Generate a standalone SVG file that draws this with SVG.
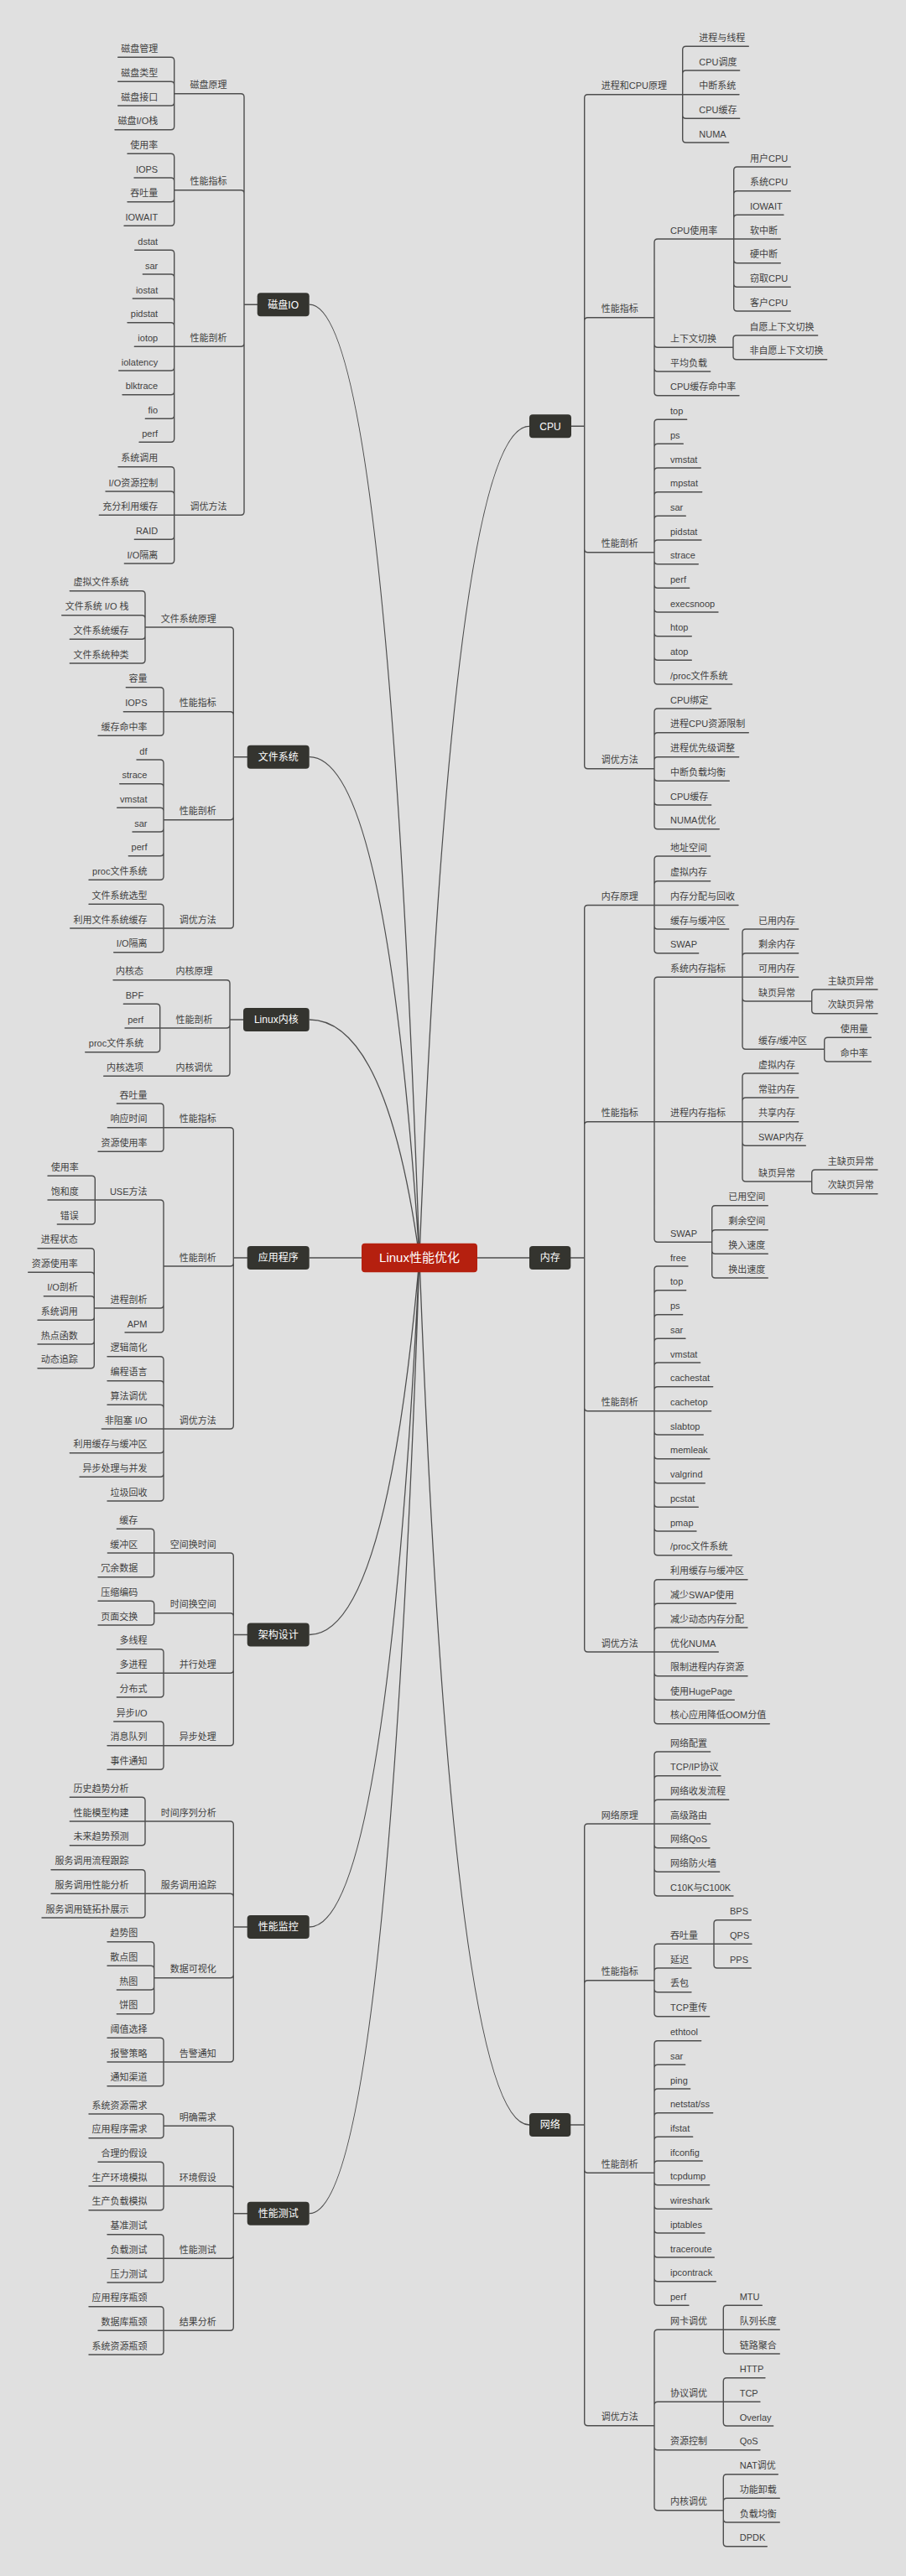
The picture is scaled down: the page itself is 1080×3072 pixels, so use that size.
<svg xmlns="http://www.w3.org/2000/svg" width="1080" height="3072" viewBox="0 0 1080 3072">
<style>
.l{fill:none;stroke:#4e4e4e;stroke-width:1.4;stroke-linecap:round}
.r{fill:none;stroke:#4e4e4e;stroke-width:1.3}
.t{font-family:"Liberation Sans","Noto Sans CJK SC",sans-serif;font-size:11px;fill:#404040}
.e{text-anchor:end}
.n{fill:#34342f}
.nt{font-family:"Liberation Sans","Noto Sans CJK SC",sans-serif;font-size:12px;fill:#ffffff;text-anchor:middle}
</style>
<rect width="1080" height="3072" fill="#e0e0e0"/>
<g id="connectors">
<g id="curves">
<path class="r" d="M368.7 363.2Q461 363.2 500 1500M368.7 902.7Q461 902.7 500 1500M368.7 1216Q461 1216 500 1500M368.7 1500H500M368.7 1949.5Q461 1949.5 500 1500M368.7 2298Q461 2298 500 1500M368.7 2639.7Q461 2639.7 500 1500M631 508.3Q539 508.3 500 1500M631 1500H500M631 2534Q539 2534 500 1500"/>
</g>
<path class="l" d="M306.7 363.2H291M291 363.2V115.7Q291 111.7 287 111.7H207.7M291 363.2V230.7Q291 226.7 287 226.7H207.7M291 363.2V409.3Q291 413.3 287 413.3H207.7M291 363.2V610.3Q291 614.3 287 614.3H207.7
M207.7 111.7V72.3Q207.7 68.3 203.7 68.3H140.7M207.7 111.7V101.3Q207.7 97.3 203.7 97.3H140.7M207.7 111.7V122Q207.7 126 203.7 126H140.7M207.7 111.7V150.7Q207.7 154.7 203.7 154.7H137
M207.7 226.7V187.3Q207.7 183.3 203.7 183.3H152M207.7 226.7V216Q207.7 212 203.7 212H160M207.7 226.7V236.7Q207.7 240.7 203.7 240.7H152M207.7 226.7V265.3Q207.7 269.3 203.7 269.3H148
M207.7 413.3V302.3Q207.7 298.3 203.7 298.3H160.7M207.7 413.3V331Q207.7 327 203.7 327H170.3M207.7 413.3V360Q207.7 356 203.7 356H158.3M207.7 413.3V388.7Q207.7 384.7 203.7 384.7H152M207.7 413.3H160.3M207.7 413.3V438Q207.7 442 203.7 442H141.7M207.7 413.3V466.7Q207.7 470.7 203.7 470.7H146M207.7 413.3V495.3Q207.7 499.3 203.7 499.3H173.3M207.7 413.3V523.3Q207.7 527.3 203.7 527.3H166
M207.7 614.3V560.7Q207.7 556.7 203.7 556.7H141M207.7 614.3V590Q207.7 586 203.7 586H126M207.7 614.3H118.3M207.7 614.3V639.3Q207.7 643.3 203.7 643.3H160.3M207.7 614.3V668Q207.7 672 203.7 672H148.3"/>
<path class="l" d="M294.7 902.7H278.3M278.3 902.7V752Q278.3 748 274.3 748H173M278.3 902.7V852.7Q278.3 848.7 274.3 848.7H195M278.3 902.7V973.7Q278.3 977.7 274.3 977.7H195M278.3 902.7V1103Q278.3 1107 274.3 1107H195
M173 748V708.7Q173 704.7 169 704.7H83.3M173 748V737.7Q173 733.7 169 733.7H73.7M173 748V758.3Q173 762.3 169 762.3H83.3M173 748V787Q173 791 169 791H83.3
M195 848.7V823.7Q195 819.7 191 819.7H150.3M195 848.7H147.3M195 848.7V873.3Q195 877.3 191 877.3H117
M195 977.7V910Q195 906 191 906H163M195 977.7V938.7Q195 934.7 191 934.7H142.7M195 977.7V967.3Q195 963.3 191 963.3H139.7M195 977.7V988Q195 992 191 992H158M195 977.7V1016.7Q195 1020.7 191 1020.7H153.3M195 977.7V1045.3Q195 1049.3 191 1049.3H106
M195 1107V1082.3Q195 1078.3 191 1078.3H106M195 1107H83.7M195 1107V1131.7Q195 1135.7 191 1135.7H135.7"/>
<path class="l" d="M290 1216H274M274 1216V1172.7Q274 1168.7 270 1168.7H135M274 1216V1222Q274 1226 270 1226H190.7M274 1216V1279.3Q274 1283.3 270 1283.3H123.7
M190.7 1226V1201.3Q190.7 1197.3 186.7 1197.3H147.3M190.7 1226H149M190.7 1226V1250.7Q190.7 1254.7 186.7 1254.7H101.7"/>
<path class="l" d="M294.7 1500H278.3M278.3 1500V1348.7Q278.3 1344.7 274.3 1344.7H195M278.3 1500V1506Q278.3 1510 274.3 1510H195M278.3 1500V1700Q278.3 1704 274.3 1704H195
M195 1344.7V1320Q195 1316 191 1316H139.3M195 1344.7H128.3M195 1344.7V1369.3Q195 1373.3 191 1373.3H117
M195 1510V1435Q195 1431 191 1431H113.3M195 1510V1556Q195 1560 191 1560H112.3M195 1510V1585Q195 1589 191 1589H149
M113.3 1431V1406.3Q113.3 1402.3 109.3 1402.3H57M113.3 1431H57M113.3 1431V1456Q113.3 1460 109.3 1460H68.3
M112.3 1560V1492.7Q112.3 1488.7 108.3 1488.7H45M112.3 1560V1521.3Q112.3 1517.3 108.3 1517.3H33.7M112.3 1560V1549.7Q112.3 1545.7 108.3 1545.7H52.3M112.3 1560V1570.3Q112.3 1574.3 108.3 1574.3H45M112.3 1560V1599Q112.3 1603 108.3 1603H45M112.3 1560V1627.7Q112.3 1631.7 108.3 1631.7H45
M195 1704V1621.7Q195 1617.7 191 1617.7H128M195 1704V1650.7Q195 1646.7 191 1646.7H128M195 1704V1679.3Q195 1675.3 191 1675.3H128M195 1704H121.3M195 1704V1728.7Q195 1732.7 191 1732.7H83.3M195 1704V1757.3Q195 1761.3 191 1761.3H95M195 1704V1786Q195 1790 191 1790H128"/>
<path class="l" d="M294.7 1949.5H278.3M278.3 1949.5V1856Q278.3 1852 274.3 1852H183.7M278.3 1949.5V1927.7Q278.3 1923.7 274.3 1923.7H183.7M278.3 1949.5V1991.3Q278.3 1995.3 274.3 1995.3H195M278.3 1949.5V2077.7Q278.3 2081.7 274.3 2081.7H195
M183.7 1852V1827.3Q183.7 1823.3 179.7 1823.3H139.3M183.7 1852H128.3M183.7 1852V1876.7Q183.7 1880.7 179.7 1880.7H117
M183.7 1923.7V1913.3Q183.7 1909.3 179.7 1909.3H117M183.7 1923.7V1934Q183.7 1938 179.7 1938H117
M195 1995.3V1970.7Q195 1966.7 191 1966.7H139.3M195 1995.3H139.3M195 1995.3V2020Q195 2024 191 2024H139.3
M195 2081.7V2057Q195 2053 191 2053H135.7M195 2081.7H128M195 2081.7V2106.3Q195 2110.3 191 2110.3H128"/>
<path class="l" d="M294.7 2298H278.3M278.3 2298V2176Q278.3 2172 274.3 2172H173M278.3 2298V2262.3Q278.3 2258.3 274.3 2258.3H173M278.3 2298V2354.7Q278.3 2358.7 274.3 2358.7H183.7M278.3 2298V2455Q278.3 2459 274.3 2459H195
M173 2172V2147.3Q173 2143.3 169 2143.3H83.3M173 2172H83.3M173 2172V2196.7Q173 2200.7 169 2200.7H83.3
M173 2258.3V2233.7Q173 2229.7 169 2229.7H61M173 2258.3H61M173 2258.3V2283Q173 2287 169 2287H50
M183.7 2358.7V2319.7Q183.7 2315.7 179.7 2315.7H128M183.7 2358.7V2348.3Q183.7 2344.3 179.7 2344.3H128M183.7 2358.7V2369Q183.7 2373 179.7 2373H139.3M183.7 2358.7V2397.7Q183.7 2401.7 179.7 2401.7H139.3
M195 2459V2434.3Q195 2430.3 191 2430.3H128M195 2459H128M195 2459V2483.7Q195 2487.7 191 2487.7H128"/>
<path class="l" d="M294.7 2639.7H278.3M278.3 2639.7V2539.3Q278.3 2535.3 274.3 2535.3H195M278.3 2639.7V2611Q278.3 2607 274.3 2607H195M278.3 2639.7V2689.3Q278.3 2693.3 274.3 2693.3H195M278.3 2639.7V2775.3Q278.3 2779.3 274.3 2779.3H195
M195 2535.3V2525Q195 2521 191 2521H106M195 2535.3V2545.7Q195 2549.7 191 2549.7H106
M195 2607V2582.3Q195 2578.3 191 2578.3H117M195 2607H106M195 2607V2631.7Q195 2635.7 191 2635.7H106
M195 2693.3V2668.7Q195 2664.7 191 2664.7H128M195 2693.3H128M195 2693.3V2718Q195 2722 191 2722H128
M195 2779.3V2754.7Q195 2750.7 191 2750.7H106M195 2779.3H117M195 2779.3V2804Q195 2808 191 2808H106"/>
<path class="l" d="M681 508.3H696.7M696.7 508.3V116.7Q696.7 112.7 700.7 112.7H813.7M696.7 508.3V382.7Q696.7 378.7 700.7 378.7H780M696.7 508.3V654.7Q696.7 658.7 700.7 658.7H780M696.7 508.3V912.7Q696.7 916.7 700.7 916.7H780
M813.7 112.7V59.3Q813.7 55.3 817.7 55.3H892.3M813.7 112.7V88Q813.7 84 817.7 84H881.7M813.7 112.7H881M813.7 112.7V137.3Q813.7 141.3 817.7 141.3H881.7M813.7 112.7V166Q813.7 170 817.7 170H868.7
M780 378.7V289Q780 285 784 285H874.7M780 378.7V410.3Q780 414.3 784 414.3H874M780 378.7V439Q780 443 784 443H846.7M780 378.7V467.7Q780 471.7 784 471.7H881
M874.7 285V203Q874.7 199 878.7 199H942.3M874.7 285V231.7Q874.7 227.7 878.7 227.7H942.3M874.7 285V260.3Q874.7 256.3 878.7 256.3H934M874.7 285H930.3M874.7 285V309.7Q874.7 313.7 878.7 313.7H930.3M874.7 285V338.3Q874.7 342.3 878.7 342.3H942.3M874.7 285V367Q874.7 371 878.7 371H942.3
M874 414.3V404Q874 400 878 400H974.7M874 414.3V424.7Q874 428.7 878 428.7H985.7
M780 658.7V504.3Q780 500.3 784 500.3H818.7M780 658.7V533.3Q780 529.3 784 529.3H814.3M780 658.7V562Q780 558 784 558H835.3M780 658.7V590.7Q780 586.7 784 586.7H836.7M780 658.7V619.3Q780 615.3 784 615.3H817.3M780 658.7V648Q780 644 784 644H836M780 658.7V668.7Q780 672.7 784 672.7H832.3M780 658.7V697.3Q780 701.3 784 701.3H821.7M780 658.7V726Q780 730 784 730H856M780 658.7V754.7Q780 758.7 784 758.7H824.3M780 658.7V783.3Q780 787.3 784 787.3H824.3M780 658.7V812Q780 816 784 816H872.7
M780 916.7V849Q780 845 784 845H847.7M780 916.7V877.7Q780 873.7 784 873.7H892.3M780 916.7V906.7Q780 902.7 784 902.7H880.7M780 916.7V927.3Q780 931.3 784 931.3H869.3M780 916.7V956Q780 960 784 960H847.7M780 916.7V984.7Q780 988.7 784 988.7H857.3"/>
<path class="l" d="M680.3 1500H696.7M696.7 1500V1083.5Q696.7 1079.5 700.7 1079.5H780M696.7 1500V1341.7Q696.7 1337.7 700.7 1337.7H780M696.7 1500V1678.7Q696.7 1682.7 700.7 1682.7H780M696.7 1500V1966Q696.7 1970 700.7 1970H780
M780 1079.5V1025Q780 1021 784 1021H846.7M780 1079.5V1054.7Q780 1050.7 784 1050.7H846.7M780 1079.5H880M780 1079.5V1104Q780 1108 784 1108H868.7M780 1079.5V1132.7Q780 1136.7 784 1136.7H832.7
M780 1337.7V1169.3Q780 1165.3 784 1165.3H885M780 1337.7H885M780 1337.7V1477.3Q780 1481.3 784 1481.3H848.7
M885 1165.3V1112Q885 1108 889 1108H951.7M885 1165.3V1140.7Q885 1136.7 889 1136.7H951.7M885 1165.3H951.7M885 1165.3V1190Q885 1194 889 1194H967.7M885 1165.3V1247.3Q885 1251.3 889 1251.3H982.7
M967.7 1194V1184Q967.7 1180 971.7 1180H1046M967.7 1194V1204.7Q967.7 1208.7 971.7 1208.7H1046
M982.7 1251.3V1241.3Q982.7 1237.3 986.7 1237.3H1038.3M982.7 1251.3V1262Q982.7 1266 986.7 1266H1038.3
M885 1337.7V1284Q885 1280 889 1280H951.7M885 1337.7V1313Q885 1309 889 1309H951.7M885 1337.7H951.7M885 1337.7V1362.3Q885 1366.3 889 1366.3H960.3M885 1337.7V1405Q885 1409 889 1409H967.7
M967.7 1409V1399Q967.7 1395 971.7 1395H1046M967.7 1409V1419.7Q967.7 1423.7 971.7 1423.7H1046
M848.7 1481.3V1441.7Q848.7 1437.7 852.7 1437.7H915.3M848.7 1481.3V1470.7Q848.7 1466.7 852.7 1466.7H915.3M848.7 1481.3V1491.3Q848.7 1495.3 852.7 1495.3H915.3M848.7 1481.3V1520Q848.7 1524 852.7 1524H915.3
M780 1682.7V1514Q780 1510 784 1510H820M780 1682.7V1542.7Q780 1538.7 784 1538.7H817.7M780 1682.7V1571.7Q780 1567.7 784 1567.7H813.7M780 1682.7V1600.3Q780 1596.3 784 1596.3H817M780 1682.7V1629Q780 1625 784 1625H834.7M780 1682.7V1657.7Q780 1653.7 784 1653.7H849.7M780 1682.7H847.7M780 1682.7V1707Q780 1711 784 1711H838.3M780 1682.7V1735.7Q780 1739.7 784 1739.7H846M780 1682.7V1764.7Q780 1768.7 784 1768.7H840.3M780 1682.7V1793.3Q780 1797.3 784 1797.3H832.3M780 1682.7V1822Q780 1826 784 1826H830M780 1682.7V1850.7Q780 1854.7 784 1854.7H872.3
M780 1970V1887.7Q780 1883.7 784 1883.7H891M780 1970V1916.3Q780 1912.3 784 1912.3H877.3M780 1970V1945Q780 1941 784 1941H891M780 1970H856.3M780 1970V1994.7Q780 1998.7 784 1998.7H891M780 1970V2023.3Q780 2027.3 784 2027.3H875.3M780 1970V2051.7Q780 2055.7 784 2055.7H917.3"/>
<path class="l" d="M680.3 2534H696.7M696.7 2534V2179Q696.7 2175 700.7 2175H780M696.7 2534V2365.7Q696.7 2361.7 700.7 2361.7H780M696.7 2534V2587.3Q696.7 2591.3 700.7 2591.3H780M696.7 2534V2888.7Q696.7 2892.7 700.7 2892.7H780
M780 2175V2093Q780 2089 784 2089H846.7M780 2175V2121.7Q780 2117.7 784 2117.7H859M780 2175V2150.3Q780 2146.3 784 2146.3H868.7M780 2175H846.7M780 2175V2199.7Q780 2203.7 784 2203.7H846M780 2175V2228.3Q780 2232.3 784 2232.3H857.7M780 2175V2257Q780 2261 784 2261H874
M780 2361.7V2322.3Q780 2318.3 784 2318.3H851M780 2361.7V2351Q780 2347 784 2347H824M780 2361.7V2371.7Q780 2375.7 784 2375.7H824M780 2361.7V2400.7Q780 2404.7 784 2404.7H845.7
M851 2318.3V2293.7Q851 2289.7 855 2289.7H895.3M851 2318.3H896M851 2318.3V2343Q851 2347 855 2347H895.3
M780 2591.3V2437.7Q780 2433.7 784 2433.7H835.7M780 2591.3V2466.3Q780 2462.3 784 2462.3H816.7M780 2591.3V2495Q780 2491 784 2491H822.7M780 2591.3V2523.7Q780 2519.7 784 2519.7H849.7M780 2591.3V2552.3Q780 2548.3 784 2548.3H825.7M780 2591.3V2581Q780 2577 784 2577H837.3M780 2591.3V2601.7Q780 2605.7 784 2605.7H845.7M780 2591.3V2630.3Q780 2634.3 784 2634.3H848.7M780 2591.3V2659Q780 2663 784 2663H840M780 2591.3V2688Q780 2692 784 2692H851.3M780 2591.3V2716.7Q780 2720.7 784 2720.7H853.3M780 2591.3V2745.3Q780 2749.3 784 2749.3H821
M780 2892.7V2782.3Q780 2778.3 784 2778.3H862.3M780 2892.7V2868.3Q780 2864.3 784 2864.3H862.3M780 2892.7V2917.7Q780 2921.7 784 2921.7H906M780 2892.7V2989.7Q780 2993.7 784 2993.7H862.3
M862.3 2778.3V2753.3Q862.3 2749.3 866.3 2749.3H908.3M862.3 2778.3H929.3M862.3 2778.3V2803Q862.3 2807 866.3 2807H929.3
M862.3 2864.3V2839.7Q862.3 2835.7 866.3 2835.7H912M862.3 2864.3H906M862.3 2864.3V2889Q862.3 2893 866.3 2893H921.7
M862.3 2993.7V2954.7Q862.3 2950.7 866.3 2950.7H927.3M862.3 2993.7V2983.3Q862.3 2979.3 866.3 2979.3H929.3M862.3 2993.7V3004Q862.3 3008 866.3 3008H929.3M862.3 2993.7V3032.7Q862.3 3036.7 866.3 3036.7H914.3"/>
</g>
<g id="root"><rect x="431" y="1482.7" width="138" height="34.6" rx="4" fill="#b5200f"/><text class="nt" x="500" y="1505.3" style="font-size:15px">Linux性能优化</text></g>
<g id="disk"><rect class="n" x="306.7" y="349.2" width="62" height="28" rx="4"/><text class="nt" x="337.7" y="367.5">磁盘IO</text></g>
<g id="fs"><rect class="n" x="294.7" y="888.7" width="74" height="28" rx="4"/><text class="nt" x="331.7" y="907">文件系统</text></g>
<g id="kernel"><rect class="n" x="290" y="1202" width="78.7" height="28" rx="4"/><text class="nt" x="329.3" y="1220.3">Linux内核</text></g>
<g id="app"><rect class="n" x="294.7" y="1486" width="74" height="28" rx="4"/><text class="nt" x="331.7" y="1504.3">应用程序</text></g>
<g id="arch"><rect class="n" x="294.7" y="1935.5" width="74" height="28" rx="4"/><text class="nt" x="331.7" y="1953.8">架构设计</text></g>
<g id="mon"><rect class="n" x="294.7" y="2284" width="74" height="28" rx="4"/><text class="nt" x="331.7" y="2302.3">性能监控</text></g>
<g id="test"><rect class="n" x="294.7" y="2625.7" width="74" height="28" rx="4"/><text class="nt" x="331.7" y="2644">性能测试</text></g>
<g id="cpu"><rect class="n" x="631" y="494.3" width="50" height="28" rx="4"/><text class="nt" x="656" y="512.6">CPU</text></g>
<g id="mem"><rect class="n" x="631" y="1486" width="49.3" height="28" rx="4"/><text class="nt" x="655.7" y="1504.3">内存</text></g>
<g id="net"><rect class="n" x="631" y="2520" width="49.3" height="28" rx="4"/><text class="nt" x="655.7" y="2538.3">网络</text></g>
<g id="disk-topics" class="t e">
<g id="d1"><text x="270.5" y="105.2">磁盘原理</text></g>
<g id="d1a"><text x="188.2" y="61.8">磁盘管理</text></g>
<g id="d1b"><text x="188.2" y="90.8">磁盘类型</text></g>
<g id="d1c"><text x="188.2" y="119.5">磁盘接口</text></g>
<g id="d1d"><text x="188.2" y="148.2">磁盘I/O栈</text></g>
<g id="d2"><text x="270.5" y="220.2">性能指标</text></g>
<g id="d2a"><text x="188.2" y="176.8">使用率</text></g>
<g id="d2b"><text x="188.2" y="205.5">IOPS</text></g>
<g id="d2c"><text x="188.2" y="234.2">吞吐量</text></g>
<g id="d2d"><text x="188.2" y="262.8">IOWAIT</text></g>
<g id="d3"><text x="270.5" y="406.8">性能剖析</text></g>
<g id="d3a"><text x="188.2" y="291.8">dstat</text></g>
<g id="d3b"><text x="188.2" y="320.5">sar</text></g>
<g id="d3c"><text x="188.2" y="349.5">iostat</text></g>
<g id="d3d"><text x="188.2" y="378.2">pidstat</text></g>
<g id="d3e"><text x="188.2" y="406.8">iotop</text></g>
<g id="d3f"><text x="188.2" y="435.5">iolatency</text></g>
<g id="d3g"><text x="188.2" y="464.2">blktrace</text></g>
<g id="d3h"><text x="188.2" y="492.8">fio</text></g>
<g id="d3i"><text x="188.2" y="520.8">perf</text></g>
<g id="d4"><text x="270.5" y="607.8">调优方法</text></g>
<g id="d4a"><text x="188.2" y="550.2">系统调用</text></g>
<g id="d4b"><text x="188.2" y="579.5">I/O资源控制</text></g>
<g id="d4c"><text x="188.2" y="607.8">充分利用缓存</text></g>
<g id="d4d"><text x="188.2" y="636.8">RAID</text></g>
<g id="d4e"><text x="188.2" y="665.5">I/O隔离</text></g>
</g>
<g id="fs-topics" class="t e">
<g id="f1"><text x="257.8" y="741.5">文件系统原理</text></g>
<g id="f1a"><text x="153.5" y="698.2">虚拟文件系统</text></g>
<g id="f1b"><text x="153.5" y="727.2">文件系统 I/O 栈</text></g>
<g id="f1c"><text x="153.5" y="755.8">文件系统缓存</text></g>
<g id="f1d"><text x="153.5" y="784.5">文件系统种类</text></g>
<g id="f2"><text x="257.8" y="842.2">性能指标</text></g>
<g id="f2a"><text x="175.5" y="813.2">容量</text></g>
<g id="f2b"><text x="175.5" y="842.2">IOPS</text></g>
<g id="f2c"><text x="175.5" y="870.8">缓存命中率</text></g>
<g id="f3"><text x="257.8" y="971.2">性能剖析</text></g>
<g id="f3a"><text x="175.5" y="899.5">df</text></g>
<g id="f3b"><text x="175.5" y="928.2">strace</text></g>
<g id="f3c"><text x="175.5" y="956.8">vmstat</text></g>
<g id="f3d"><text x="175.5" y="985.5">sar</text></g>
<g id="f3e"><text x="175.5" y="1014.2">perf</text></g>
<g id="f3f"><text x="175.5" y="1042.8">proc文件系统</text></g>
<g id="f4"><text x="257.8" y="1100.5">调优方法</text></g>
<g id="f4a"><text x="175.5" y="1071.8">文件系统选型</text></g>
<g id="f4b"><text x="175.5" y="1100.5">利用文件系统缓存</text></g>
<g id="f4c"><text x="175.5" y="1129.2">I/O隔离</text></g>
</g>
<g id="kernel-topics" class="t e">
<g id="k1"><text x="253.5" y="1162.2">内核原理</text></g>
<g id="k1a"><text x="171" y="1162.2">内核态</text></g>
<g id="k2"><text x="253.5" y="1219.5">性能剖析</text></g>
<g id="k2a"><text x="171.2" y="1190.8">BPF</text></g>
<g id="k2b"><text x="171.2" y="1219.5">perf</text></g>
<g id="k2c"><text x="171.2" y="1248.2">proc文件系统</text></g>
<g id="k3"><text x="253.5" y="1276.8">内核调优</text></g>
<g id="k3a"><text x="171" y="1276.8">内核选项</text></g>
</g>
<g id="app-topics" class="t e">
<g id="a1"><text x="257.8" y="1338.2">性能指标</text></g>
<g id="a1a"><text x="175.5" y="1309.5">吞吐量</text></g>
<g id="a1b"><text x="175.5" y="1338.2">响应时间</text></g>
<g id="a1c"><text x="175.5" y="1366.8">资源使用率</text></g>
<g id="a2"><text x="257.8" y="1503.5">性能剖析</text></g>
<g id="a2a"><text x="175.5" y="1424.5">USE方法</text></g>
<g id="a2a1"><text x="93.8" y="1395.8">使用率</text></g>
<g id="a2a2"><text x="93.8" y="1424.5">饱和度</text></g>
<g id="a2a3"><text x="93.8" y="1453.5">错误</text></g>
<g id="a2b"><text x="175.5" y="1553.5">进程剖析</text></g>
<g id="a2b1"><text x="92.8" y="1482.2">进程状态</text></g>
<g id="a2b2"><text x="92.8" y="1510.8">资源使用率</text></g>
<g id="a2b3"><text x="92.8" y="1539.2">I/O剖析</text></g>
<g id="a2b4"><text x="92.8" y="1567.8">系统调用</text></g>
<g id="a2b5"><text x="92.8" y="1596.5">热点函数</text></g>
<g id="a2b6"><text x="92.8" y="1625.2">动态追踪</text></g>
<g id="a2c"><text x="175.5" y="1582.5">APM</text></g>
<g id="a3"><text x="257.8" y="1697.5">调优方法</text></g>
<g id="a3a"><text x="175.5" y="1611.2">逻辑简化</text></g>
<g id="a3b"><text x="175.5" y="1640.2">编程语言</text></g>
<g id="a3c"><text x="175.5" y="1668.8">算法调优</text></g>
<g id="a3d"><text x="175.5" y="1697.5">非阻塞 I/O</text></g>
<g id="a3e"><text x="175.5" y="1726.2">利用缓存与缓冲区</text></g>
<g id="a3f"><text x="175.5" y="1754.8">异步处理与并发</text></g>
<g id="a3g"><text x="175.5" y="1783.5">垃圾回收</text></g>
</g>
<g id="arch-topics" class="t e">
<g id="r1"><text x="257.8" y="1845.5">空间换时间</text></g>
<g id="r1a"><text x="164.2" y="1816.8">缓存</text></g>
<g id="r1b"><text x="164.2" y="1845.5">缓冲区</text></g>
<g id="r1c"><text x="164.2" y="1874.2">冗余数据</text></g>
<g id="r2"><text x="257.8" y="1917.2">时间换空间</text></g>
<g id="r2a"><text x="164.2" y="1902.8">压缩编码</text></g>
<g id="r2b"><text x="164.2" y="1931.5">页面交换</text></g>
<g id="r3"><text x="257.8" y="1988.8">并行处理</text></g>
<g id="r3a"><text x="175.5" y="1960.2">多线程</text></g>
<g id="r3b"><text x="175.5" y="1988.8">多进程</text></g>
<g id="r3c"><text x="175.5" y="2017.5">分布式</text></g>
<g id="r4"><text x="257.8" y="2075.2">异步处理</text></g>
<g id="r4a"><text x="175.5" y="2046.5">异步I/O</text></g>
<g id="r4b"><text x="175.5" y="2075.2">消息队列</text></g>
<g id="r4c"><text x="175.5" y="2103.8">事件通知</text></g>
</g>
<g id="mon-topics" class="t e">
<g id="m1"><text x="257.8" y="2165.5">时间序列分析</text></g>
<g id="m1a"><text x="153.5" y="2136.8">历史趋势分析</text></g>
<g id="m1b"><text x="153.5" y="2165.5">性能模型构建</text></g>
<g id="m1c"><text x="153.5" y="2194.2">未来趋势预测</text></g>
<g id="m2"><text x="257.8" y="2251.8">服务调用追踪</text></g>
<g id="m2a"><text x="153.5" y="2223.2">服务调用流程跟踪</text></g>
<g id="m2b"><text x="153.5" y="2251.8">服务调用性能分析</text></g>
<g id="m2c"><text x="153.5" y="2280.5">服务调用链拓扑展示</text></g>
<g id="m3"><text x="257.8" y="2352.2">数据可视化</text></g>
<g id="m3a"><text x="164.2" y="2309.2">趋势图</text></g>
<g id="m3b"><text x="164.2" y="2337.8">散点图</text></g>
<g id="m3c"><text x="164.2" y="2366.5">热图</text></g>
<g id="m3d"><text x="164.2" y="2395.2">饼图</text></g>
<g id="m4"><text x="257.8" y="2452.5">告警通知</text></g>
<g id="m4a"><text x="175.5" y="2423.8">阈值选择</text></g>
<g id="m4b"><text x="175.5" y="2452.5">报警策略</text></g>
<g id="m4c"><text x="175.5" y="2481.2">通知渠道</text></g>
</g>
<g id="test-topics" class="t e">
<g id="s1"><text x="257.8" y="2528.8">明确需求</text></g>
<g id="s1a"><text x="175.5" y="2514.5">系统资源需求</text></g>
<g id="s1b"><text x="175.5" y="2543.2">应用程序需求</text></g>
<g id="s2"><text x="257.8" y="2600.5">环境假设</text></g>
<g id="s2a"><text x="175.5" y="2571.8">合理的假设</text></g>
<g id="s2b"><text x="175.5" y="2600.5">生产环境模拟</text></g>
<g id="s2c"><text x="175.5" y="2629.2">生产负载模拟</text></g>
<g id="s3"><text x="257.8" y="2686.8">性能测试</text></g>
<g id="s3a"><text x="175.5" y="2658.2">基准测试</text></g>
<g id="s3b"><text x="175.5" y="2686.8">负载测试</text></g>
<g id="s3c"><text x="175.5" y="2715.5">压力测试</text></g>
<g id="s4"><text x="257.8" y="2772.8">结果分析</text></g>
<g id="s4a"><text x="175.5" y="2744.2">应用程序瓶颈</text></g>
<g id="s4b"><text x="175.5" y="2772.8">数据库瓶颈</text></g>
<g id="s4c"><text x="175.5" y="2801.5">系统资源瓶颈</text></g>
</g>
<g id="cpu-topics" class="t">
<g id="c1"><text x="716.7" y="106.2">进程和CPU原理</text></g>
<g id="c1a"><text x="833.3" y="48.8">进程与线程</text></g>
<g id="c1b"><text x="833.3" y="77.5">CPU调度</text></g>
<g id="c1c"><text x="833.3" y="106.2">中断系统</text></g>
<g id="c1d"><text x="833.3" y="134.8">CPU缓存</text></g>
<g id="c1e"><text x="833.3" y="163.5">NUMA</text></g>
<g id="c2"><text x="716.7" y="372.2">性能指标</text></g>
<g id="c2a"><text x="799" y="278.5">CPU使用率</text></g>
<g id="c2a1"><text x="894" y="192.5">用户CPU</text></g>
<g id="c2a2"><text x="894" y="221.2">系统CPU</text></g>
<g id="c2a3"><text x="894" y="249.8">IOWAIT</text></g>
<g id="c2a4"><text x="894" y="278.5">软中断</text></g>
<g id="c2a5"><text x="894" y="307.2">硬中断</text></g>
<g id="c2a6"><text x="894" y="335.8">窃取CPU</text></g>
<g id="c2a7"><text x="894" y="364.5">客户CPU</text></g>
<g id="c2b"><text x="799" y="407.8">上下文切换</text></g>
<g id="c2b1"><text x="893.5" y="393.5">自愿上下文切换</text></g>
<g id="c2b2"><text x="893.5" y="422.2">非自愿上下文切换</text></g>
<g id="c2c"><text x="799" y="436.5">平均负载</text></g>
<g id="c2d"><text x="799" y="465.2">CPU缓存命中率</text></g>
<g id="c3"><text x="716.7" y="652.2">性能剖析</text></g>
<g id="c3a"><text x="799" y="493.8">top</text></g>
<g id="c3b"><text x="799" y="522.8">ps</text></g>
<g id="c3c"><text x="799" y="551.5">vmstat</text></g>
<g id="c3d"><text x="799" y="580.2">mpstat</text></g>
<g id="c3e"><text x="799" y="608.8">sar</text></g>
<g id="c3f"><text x="799" y="637.5">pidstat</text></g>
<g id="c3g"><text x="799" y="666.2">strace</text></g>
<g id="c3h"><text x="799" y="694.8">perf</text></g>
<g id="c3i"><text x="799" y="723.5">execsnoop</text></g>
<g id="c3j"><text x="799" y="752.2">htop</text></g>
<g id="c3k"><text x="799" y="780.8">atop</text></g>
<g id="c3l"><text x="799" y="809.5">/proc文件系统</text></g>
<g id="c4"><text x="716.7" y="910.2">调优方法</text></g>
<g id="c4a"><text x="799" y="838.5">CPU绑定</text></g>
<g id="c4b"><text x="799" y="867.2">进程CPU资源限制</text></g>
<g id="c4c"><text x="799" y="896.2">进程优先级调整</text></g>
<g id="c4d"><text x="799" y="924.8">中断负载均衡</text></g>
<g id="c4e"><text x="799" y="953.5">CPU缓存</text></g>
<g id="c4f"><text x="799" y="982.2">NUMA优化</text></g>
</g>
<g id="mem-topics" class="t">
<g id="e1"><text x="716.7" y="1073">内存原理</text></g>
<g id="e1a"><text x="799" y="1014.5">地址空间</text></g>
<g id="e1b"><text x="799" y="1044.2">虚拟内存</text></g>
<g id="e1c"><text x="799" y="1073">内存分配与回收</text></g>
<g id="e1d"><text x="799" y="1101.5">缓存与缓冲区</text></g>
<g id="e1e"><text x="799" y="1130.2">SWAP</text></g>
<g id="e2"><text x="716.7" y="1331.2">性能指标</text></g>
<g id="e2a"><text x="799" y="1158.8">系统内存指标</text></g>
<g id="e2a1"><text x="904" y="1101.5">已用内存</text></g>
<g id="e2a2"><text x="904" y="1130.2">剩余内存</text></g>
<g id="e2a3"><text x="904" y="1158.8">可用内存</text></g>
<g id="e2a4"><text x="904" y="1187.5">缺页异常</text></g>
<g id="e2a4a"><text x="986.7" y="1173.5">主缺页异常</text></g>
<g id="e2a4b"><text x="986.7" y="1202.2">次缺页异常</text></g>
<g id="e2a5"><text x="904" y="1244.8">缓存/缓冲区</text></g>
<g id="e2a5a"><text x="1001.7" y="1230.8">使用量</text></g>
<g id="e2a5b"><text x="1001.7" y="1259.5">命中率</text></g>
<g id="e2b"><text x="799" y="1331.2">进程内存指标</text></g>
<g id="e2b1"><text x="904" y="1273.5">虚拟内存</text></g>
<g id="e2b2"><text x="904" y="1302.5">常驻内存</text></g>
<g id="e2b3"><text x="904" y="1331.2">共享内存</text></g>
<g id="e2b4"><text x="904" y="1359.8">SWAP内存</text></g>
<g id="e2b5"><text x="904" y="1402.5">缺页异常</text></g>
<g id="e2b5a"><text x="986.7" y="1388.5">主缺页异常</text></g>
<g id="e2b5b"><text x="986.7" y="1417.2">次缺页异常</text></g>
<g id="e2c"><text x="799" y="1474.8">SWAP</text></g>
<g id="e2c1"><text x="868.3" y="1431.2">已用空间</text></g>
<g id="e2c2"><text x="868.3" y="1460.2">剩余空间</text></g>
<g id="e2c3"><text x="868.3" y="1488.8">换入速度</text></g>
<g id="e2c4"><text x="868.3" y="1517.5">换出速度</text></g>
<g id="e3"><text x="716.7" y="1676.2">性能剖析</text></g>
<g id="e3a"><text x="799" y="1503.5">free</text></g>
<g id="e3b"><text x="799" y="1532.2">top</text></g>
<g id="e3c"><text x="799" y="1561.2">ps</text></g>
<g id="e3d"><text x="799" y="1589.8">sar</text></g>
<g id="e3e"><text x="799" y="1618.5">vmstat</text></g>
<g id="e3f"><text x="799" y="1647.2">cachestat</text></g>
<g id="e3g"><text x="799" y="1676.2">cachetop</text></g>
<g id="e3h"><text x="799" y="1704.5">slabtop</text></g>
<g id="e3i"><text x="799" y="1733.2">memleak</text></g>
<g id="e3j"><text x="799" y="1762.2">valgrind</text></g>
<g id="e3k"><text x="799" y="1790.8">pcstat</text></g>
<g id="e3l"><text x="799" y="1819.5">pmap</text></g>
<g id="e3m"><text x="799" y="1848.2">/proc文件系统</text></g>
<g id="e4"><text x="716.7" y="1963.5">调优方法</text></g>
<g id="e4a"><text x="799" y="1877.2">利用缓存与缓冲区</text></g>
<g id="e4b"><text x="799" y="1905.8">减少SWAP使用</text></g>
<g id="e4c"><text x="799" y="1934.5">减少动态内存分配</text></g>
<g id="e4d"><text x="799" y="1963.5">优化NUMA</text></g>
<g id="e4e"><text x="799" y="1992.2">限制进程内存资源</text></g>
<g id="e4f"><text x="799" y="2020.8">使用HugePage</text></g>
<g id="e4g"><text x="799" y="2049.2">核心应用降低OOM分值</text></g>
</g>
<g id="net-topics" class="t">
<g id="w1"><text x="716.7" y="2168.5">网络原理</text></g>
<g id="w1a"><text x="799" y="2082.5">网络配置</text></g>
<g id="w1b"><text x="799" y="2111.2">TCP/IP协议</text></g>
<g id="w1c"><text x="799" y="2139.8">网络收发流程</text></g>
<g id="w1d"><text x="799" y="2168.5">高级路由</text></g>
<g id="w1e"><text x="799" y="2197.2">网络QoS</text></g>
<g id="w1f"><text x="799" y="2225.8">网络防火墙</text></g>
<g id="w1g"><text x="799" y="2254.5">C10K与C100K</text></g>
<g id="w2"><text x="716.7" y="2355.2">性能指标</text></g>
<g id="w2a"><text x="799" y="2311.8">吞吐量</text></g>
<g id="w2a1"><text x="870" y="2283.2">BPS</text></g>
<g id="w2a2"><text x="870" y="2311.8">QPS</text></g>
<g id="w2a3"><text x="870" y="2340.5">PPS</text></g>
<g id="w2b"><text x="799" y="2340.5">延迟</text></g>
<g id="w2c"><text x="799" y="2369.2">丢包</text></g>
<g id="w2d"><text x="799" y="2398.2">TCP重传</text></g>
<g id="w3"><text x="716.7" y="2584.8">性能剖析</text></g>
<g id="w3a"><text x="799" y="2427.2">ethtool</text></g>
<g id="w3b"><text x="799" y="2455.8">sar</text></g>
<g id="w3c"><text x="799" y="2484.5">ping</text></g>
<g id="w3d"><text x="799" y="2513.2">netstat/ss</text></g>
<g id="w3e"><text x="799" y="2541.8">ifstat</text></g>
<g id="w3f"><text x="799" y="2570.5">ifconfig</text></g>
<g id="w3g"><text x="799" y="2599.2">tcpdump</text></g>
<g id="w3h"><text x="799" y="2627.8">wireshark</text></g>
<g id="w3i"><text x="799" y="2656.5">iptables</text></g>
<g id="w3j"><text x="799" y="2685.5">traceroute</text></g>
<g id="w3k"><text x="799" y="2714.2">ipcontrack</text></g>
<g id="w3l"><text x="799" y="2742.8">perf</text></g>
<g id="w4"><text x="716.7" y="2886.2">调优方法</text></g>
<g id="w4a"><text x="799" y="2771.8">网卡调优</text></g>
<g id="w4a1"><text x="881.7" y="2742.8">MTU</text></g>
<g id="w4a2"><text x="881.7" y="2771.8">队列长度</text></g>
<g id="w4a3"><text x="881.7" y="2800.5">链路聚合</text></g>
<g id="w4b"><text x="799" y="2857.8">协议调优</text></g>
<g id="w4b1"><text x="881.7" y="2829.2">HTTP</text></g>
<g id="w4b2"><text x="881.7" y="2857.8">TCP</text></g>
<g id="w4b3"><text x="881.7" y="2886.5">Overlay</text></g>
<g id="w4c"><text x="799" y="2915.2">资源控制</text></g>
<g id="w4c1"><text x="881.7" y="2915.2">QoS</text></g>
<g id="w4d"><text x="799" y="2987.2">内核调优</text></g>
<g id="w4d1"><text x="881.7" y="2944.2">NAT调优</text></g>
<g id="w4d2"><text x="881.7" y="2972.8">功能卸载</text></g>
<g id="w4d3"><text x="881.7" y="3001.5">负载均衡</text></g>
<g id="w4d4"><text x="881.7" y="3030.2">DPDK</text></g>
</g>
</svg>
